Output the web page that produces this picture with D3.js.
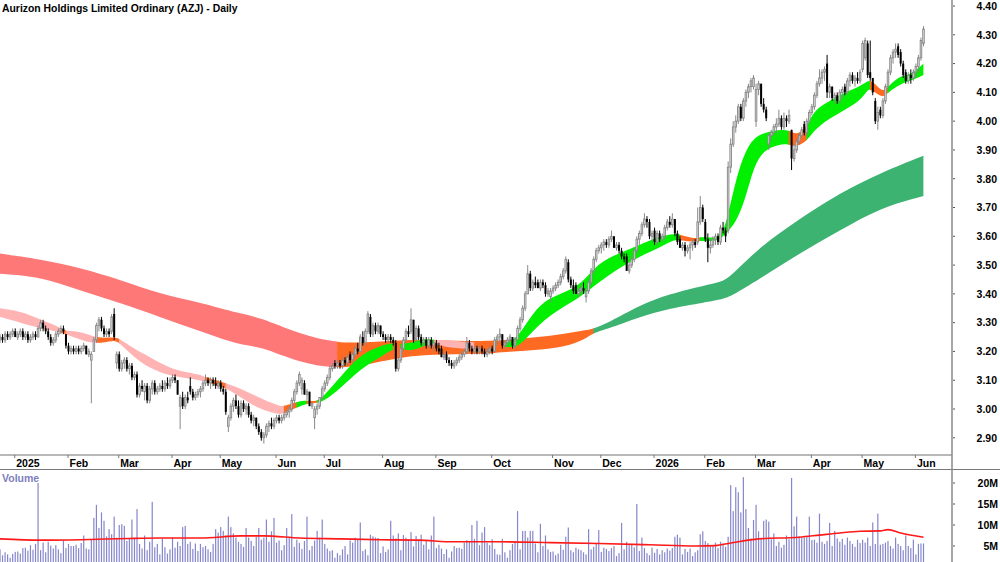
<!DOCTYPE html>
<html>
<head>
<meta charset="utf-8">
<script src="https://cdn.jsdelivr.net/npm/d3@7"></script>
<style>
  body { margin: 0; background: #fff; }
  svg text { font-family: "Liberation Sans", Arial, sans-serif; font-weight: bold; }
</style>
</head>
<body>
<div id="chart"></div>
<script>

// daily bars, open / high / low / close (late Dec 2024 .. early Jun 2026)
var ohlc = [
  [3.24,3.26,3.23,3.25],[3.25,3.26,3.23,3.24],[3.24,3.27,3.23,3.26],[3.26,3.27,3.24,3.25],[3.25,3.27,3.24,3.26],
  [3.26,3.28,3.25,3.27],[3.27,3.28,3.25,3.25],[3.25,3.27,3.24,3.26],[3.26,3.28,3.25,3.27],[3.27,3.28,3.24,3.25],
  [3.25,3.27,3.24,3.26],[3.26,3.27,3.23,3.24],[3.24,3.26,3.23,3.25],[3.25,3.27,3.24,3.26],[3.26,3.27,3.24,3.25],
  [3.25,3.29,3.25,3.28],[3.28,3.31,3.27,3.30],[3.30,3.31,3.27,3.28],[3.28,3.29,3.26,3.27],[3.27,3.28,3.24,3.25],
  [3.25,3.26,3.22,3.23],[3.23,3.25,3.22,3.24],[3.24,3.27,3.23,3.26],[3.26,3.28,3.25,3.27],[3.27,3.29,3.26,3.28],
  [3.28,3.29,3.26,3.27],[3.26,3.26,3.21,3.22],[3.22,3.23,3.19,3.20],[3.20,3.22,3.19,3.21],[3.21,3.22,3.19,3.20],
  [3.20,3.22,3.19,3.21],[3.21,3.22,3.19,3.20],[3.20,3.22,3.19,3.21],[3.21,3.23,3.20,3.22],[3.22,3.22,3.19,3.19],
  [3.19,3.21,3.18,3.20],[3.17,3.20,3.02,3.19],[3.20,3.25,3.20,3.24],[3.24,3.30,3.23,3.29],[3.29,3.32,3.27,3.31],
  [3.31,3.32,3.27,3.28],[3.28,3.29,3.25,3.26],[3.26,3.28,3.25,3.27],[3.27,3.28,3.25,3.26],[3.27,3.33,3.26,3.32],
  [3.33,3.35,3.24,3.25],[3.16,3.20,3.14,3.19],[3.19,3.20,3.13,3.14],[3.14,3.17,3.13,3.16],[3.16,3.18,3.14,3.17],
  [3.17,3.18,3.13,3.14],[3.14,3.16,3.12,3.15],[3.15,3.16,3.10,3.11],[3.11,3.13,3.10,3.12],[3.12,3.13,3.04,3.05],
  [3.05,3.09,3.04,3.08],[3.08,3.10,3.06,3.07],[3.06,3.09,3.03,3.08],[3.08,3.09,3.02,3.03],[3.03,3.08,3.02,3.07],
  [3.07,3.10,3.05,3.09],[3.09,3.10,3.05,3.06],[3.06,3.08,3.05,3.07],[3.07,3.09,3.06,3.08],[3.08,3.10,3.06,3.07],
  [3.07,3.10,3.06,3.09],[3.09,3.11,3.07,3.08],[3.08,3.11,3.07,3.10],[3.10,3.12,3.09,3.11],[3.11,3.12,3.09,3.10],
  [3.10,3.10,3.05,3.05],[3.01,3.05,2.93,3.04],[3.04,3.06,3.00,3.01],[3.01,3.05,3.00,3.04],[3.04,3.06,3.02,3.03],
  [3.08,3.11,3.05,3.06],[3.06,3.07,3.03,3.04],[3.04,3.06,3.03,3.05],[3.05,3.07,3.04,3.06],[3.06,3.08,3.04,3.07],
  [3.07,3.10,3.06,3.09],[3.09,3.12,3.08,3.10],[3.10,3.11,3.08,3.09],[3.09,3.11,3.07,3.10],[3.10,3.11,3.08,3.09],
  [3.09,3.11,3.07,3.08],[3.08,3.10,3.07,3.09],[3.09,3.10,3.06,3.07],[3.07,3.08,3.05,3.06],[3.06,3.07,2.98,2.99],
  [2.94,2.98,2.92,2.97],[2.97,3.02,2.96,3.01],[3.01,3.04,2.99,3.03],[3.03,3.05,3.00,3.01],[3.01,3.03,2.97,2.98],
  [2.98,3.03,2.97,3.02],[3.02,3.03,2.99,3.00],[3.00,3.02,2.98,3.01],[3.01,3.02,2.97,2.98],[2.98,2.99,2.95,2.96],
  [2.96,2.98,2.94,2.97],[2.97,2.97,2.93,2.94],[2.94,2.95,2.91,2.92],[2.92,2.93,2.89,2.90],[2.90,2.92,2.88,2.91],
  [2.91,2.95,2.90,2.94],[2.94,2.96,2.92,2.95],[2.95,2.97,2.93,2.94],[2.94,2.97,2.93,2.96],[2.96,2.98,2.95,2.97],
  [2.97,2.98,2.95,2.96],[2.96,2.98,2.95,2.97],[2.97,2.99,2.96,2.98],[2.98,3.00,2.97,2.99],[2.99,3.01,2.97,3.00],
  [3.00,3.04,2.99,3.03],[3.03,3.07,3.02,3.06],[3.06,3.10,3.05,3.09],[3.09,3.13,3.08,3.12],[3.07,3.11,3.05,3.10],
  [3.09,3.10,3.05,3.05],[3.05,3.07,3.03,3.06],[3.06,3.06,3.01,3.01],[3.01,3.02,3.00,3.02],[2.97,3.01,2.93,3.00],
  [3.00,3.02,2.98,3.01],[3.01,3.04,3.00,3.04],[3.04,3.08,3.03,3.07],[3.07,3.10,3.06,3.09],[3.09,3.12,3.08,3.11],
  [3.11,3.15,3.10,3.14],[3.14,3.16,3.13,3.15],[3.16,3.17,3.14,3.15],[3.15,3.17,3.14,3.16],[3.16,3.17,3.14,3.15],
  [3.15,3.18,3.14,3.17],[3.17,3.18,3.15,3.16],[3.16,3.19,3.15,3.18],[3.19,3.20,3.16,3.17],[3.17,3.20,3.16,3.19],
  [3.19,3.22,3.18,3.21],[3.21,3.23,3.19,3.20],[3.20,3.26,3.20,3.25],[3.25,3.27,3.22,3.23],[3.23,3.28,3.22,3.27],
  [3.27,3.34,3.26,3.33],[3.32,3.33,3.25,3.26],[3.26,3.30,3.25,3.29],[3.29,3.30,3.26,3.27],[3.27,3.30,3.26,3.29],
  [3.29,3.29,3.25,3.26],[3.26,3.27,3.24,3.25],[3.25,3.26,3.23,3.24],[3.24,3.26,3.23,3.25],[3.25,3.26,3.23,3.24],
  [3.24,3.25,3.22,3.23],[3.23,3.24,3.13,3.14],[3.14,3.18,3.13,3.17],[3.17,3.22,3.16,3.21],[3.21,3.25,3.20,3.24],
  [3.24,3.28,3.23,3.27],[3.27,3.29,3.25,3.26],[3.27,3.35,3.26,3.31],[3.31,3.31,3.23,3.24],[3.24,3.29,3.23,3.28],
  [3.28,3.29,3.24,3.25],[3.25,3.26,3.22,3.23],[3.23,3.25,3.22,3.24],[3.24,3.25,3.21,3.22],[3.22,3.25,3.21,3.24],
  [3.24,3.25,3.21,3.22],[3.22,3.24,3.20,3.23],[3.23,3.24,3.20,3.21],[3.21,3.23,3.19,3.20],[3.21,3.22,3.18,3.18],
  [3.18,3.20,3.17,3.19],[3.19,3.20,3.16,3.17],[3.17,3.18,3.15,3.16],[3.16,3.17,3.14,3.15],[3.15,3.17,3.14,3.16],
  [3.16,3.18,3.15,3.17],[3.17,3.19,3.16,3.18],[3.18,3.20,3.17,3.19],[3.19,3.21,3.18,3.20],[3.20,3.25,3.19,3.23],
  [3.23,3.24,3.20,3.21],[3.21,3.22,3.19,3.20],[3.20,3.22,3.19,3.21],[3.21,3.22,3.19,3.20],[3.20,3.22,3.19,3.21],
  [3.21,3.22,3.19,3.20],[3.20,3.21,3.18,3.19],[3.19,3.21,3.18,3.20],[3.20,3.22,3.19,3.21],[3.21,3.22,3.19,3.20],
  [3.20,3.25,3.20,3.24],[3.24,3.26,3.22,3.25],[3.25,3.28,3.23,3.26],[3.26,3.26,3.21,3.22],[3.22,3.24,3.21,3.23],
  [3.23,3.25,3.22,3.24],[3.24,3.26,3.23,3.25],[3.25,3.25,3.21,3.22],[3.22,3.25,3.21,3.24],[3.24,3.29,3.24,3.28],
  [3.28,3.32,3.27,3.31],[3.31,3.36,3.30,3.35],[3.35,3.41,3.34,3.40],[3.40,3.50,3.40,3.47],[3.47,3.48,3.41,3.42],
  [3.42,3.45,3.41,3.44],[3.44,3.46,3.42,3.43],[3.44,3.45,3.42,3.42],[3.42,3.45,3.41,3.44],[3.44,3.45,3.42,3.43],
  [3.43,3.44,3.39,3.40],[3.40,3.42,3.39,3.41],[3.39,3.42,3.37,3.41],[3.41,3.43,3.40,3.42],[3.42,3.44,3.41,3.43],
  [3.43,3.45,3.42,3.44],[3.44,3.47,3.43,3.46],[3.46,3.49,3.45,3.48],[3.48,3.53,3.47,3.52],[3.51,3.52,3.44,3.45],
  [3.45,3.46,3.42,3.43],[3.43,3.45,3.40,3.41],[3.43,3.44,3.40,3.40],[3.40,3.42,3.39,3.41],[3.41,3.43,3.40,3.42],
  [3.42,3.44,3.40,3.41],[3.39,3.42,3.37,3.41],[3.41,3.45,3.40,3.44],[3.44,3.49,3.43,3.48],[3.48,3.53,3.47,3.52],
  [3.52,3.56,3.51,3.55],[3.55,3.57,3.54,3.56],[3.56,3.58,3.54,3.57],[3.57,3.59,3.55,3.58],[3.58,3.59,3.56,3.57],
  [3.57,3.60,3.56,3.59],[3.59,3.62,3.58,3.60],[3.60,3.60,3.56,3.56],[3.56,3.58,3.55,3.57],[3.57,3.58,3.54,3.55],
  [3.55,3.56,3.52,3.53],[3.53,3.54,3.51,3.52],[3.53,3.54,3.48,3.48],[3.48,3.51,3.47,3.50],[3.50,3.53,3.49,3.52],
  [3.52,3.56,3.51,3.55],[3.55,3.60,3.54,3.59],[3.59,3.62,3.57,3.61],[3.61,3.65,3.60,3.64],[3.64,3.68,3.63,3.66],
  [3.66,3.67,3.63,3.65],[3.65,3.66,3.59,3.60],[3.60,3.62,3.58,3.61],[3.62,3.63,3.57,3.58],[3.58,3.62,3.57,3.61],
  [3.61,3.62,3.58,3.59],[3.59,3.61,3.58,3.60],[3.60,3.64,3.59,3.63],[3.63,3.66,3.62,3.65],[3.65,3.67,3.63,3.64],
  [3.64,3.68,3.63,3.66],[3.66,3.66,3.60,3.61],[3.61,3.62,3.57,3.58],[3.59,3.60,3.56,3.56],[3.56,3.58,3.55,3.57],
  [3.57,3.58,3.53,3.55],[3.55,3.57,3.54,3.56],[3.56,3.58,3.52,3.57],[3.57,3.59,3.55,3.58],[3.58,3.59,3.56,3.57],
  [3.58,3.70,3.57,3.65],[3.65,3.74,3.64,3.70],[3.70,3.71,3.65,3.66],[3.65,3.66,3.58,3.59],[3.59,3.61,3.51,3.56],
  [3.56,3.59,3.54,3.57],[3.57,3.60,3.56,3.59],[3.59,3.61,3.57,3.60],[3.60,3.61,3.57,3.58],[3.58,3.64,3.57,3.63],
  [3.63,3.65,3.61,3.62],[3.62,3.63,3.58,3.60],[3.62,3.86,3.61,3.84],[3.84,3.94,3.82,3.92],[3.92,4.00,3.91,3.98],
  [3.98,4.02,3.96,4.00],[4.00,4.06,3.99,4.05],[4.05,4.06,4.00,4.01],[4.01,4.08,4.00,4.07],[4.07,4.11,4.05,4.10],
  [4.10,4.13,4.08,4.12],[4.12,4.15,4.10,4.14],[4.12,4.16,4.11,4.15],[4.00,4.13,3.98,4.11],[4.11,4.14,4.09,4.13],
  [4.13,4.13,4.05,4.06],[4.06,4.08,4.03,4.04],[4.04,4.05,4.00,4.01],[3.92,3.96,3.90,3.95],[3.95,3.97,3.93,3.96],
  [3.96,3.99,3.95,3.98],[3.98,4.01,3.96,3.99],[3.99,4.04,3.98,4.01],[4.01,4.02,3.97,3.98],[3.98,4.03,3.97,4.01],
  [4.01,4.02,3.98,4.00],[4.00,4.04,3.99,4.02],[3.97,3.97,3.83,3.87],[3.87,3.92,3.86,3.90],[3.90,3.94,3.89,3.93],
  [3.93,3.96,3.92,3.95],[3.95,3.98,3.94,3.97],[3.99,4.00,3.95,3.96],[3.96,4.01,3.95,4.00],[4.00,4.04,3.99,4.03],
  [4.03,4.06,4.02,4.05],[4.05,4.10,4.04,4.09],[4.09,4.14,4.08,4.13],[4.13,4.18,4.12,4.15],[4.15,4.18,4.13,4.17],
  [4.17,4.19,4.14,4.18],[4.20,4.23,4.08,4.10],[4.10,4.13,4.08,4.12],[4.12,4.12,4.07,4.08],[4.08,4.10,4.06,4.09],
  [4.09,4.10,4.06,4.07],[4.07,4.11,4.06,4.10],[4.10,4.12,4.08,4.11],[4.12,4.13,4.09,4.10],[4.10,4.15,4.09,4.14],
  [4.14,4.17,4.12,4.16],[4.16,4.17,4.13,4.14],[4.14,4.16,4.12,4.15],[4.15,4.17,4.13,4.14],[4.14,4.18,4.13,4.17],
  [4.18,4.28,4.17,4.27],[4.22,4.29,4.21,4.28],[4.27,4.28,4.15,4.16],[4.17,4.28,4.14,4.15],[4.15,4.15,4.09,4.10],
  [4.07,4.08,3.99,4.00],[4.00,4.05,3.97,4.03],[4.04,4.05,4.01,4.02],[4.02,4.08,4.01,4.07],[4.07,4.13,4.06,4.12],
  [4.12,4.18,4.11,4.17],[4.17,4.23,4.16,4.22],[4.22,4.25,4.20,4.24],[4.24,4.27,4.22,4.25],[4.26,4.27,4.22,4.23],
  [4.24,4.25,4.19,4.20],[4.20,4.21,4.15,4.16],[4.17,4.18,4.13,4.14],[4.14,4.17,4.13,4.16],[4.16,4.18,4.13,4.15],
  [4.15,4.18,4.14,4.17],[4.17,4.20,4.15,4.19],[4.19,4.23,4.17,4.22],[4.22,4.29,4.21,4.28],[4.27,4.33,4.26,4.32]
];

// daily volume, millions
var volume = [
  4.2,2.8,3.5,3.0,2.2,3.1,3.6,3.7,3.2,4.5,4.6,3.9,5.2,4.1,5.5,20.0,4.0,5.8,3.5,6.0,
  5.1,4.4,5.2,4.2,3.3,6.3,4.5,5.5,5.0,5.0,5.3,4.5,5.7,7.5,4.4,4.2,6.5,11.7,14.8,9.3,
  13.0,11.0,7.3,9.0,7.8,12.0,7.0,10.0,10.2,9.8,6.2,6.7,11.3,6.8,13.8,5.5,4.4,7.5,4.0,6.0,
  15.5,4.7,5.5,3.0,6.8,4.7,3.2,4.2,7.0,4.6,6.0,5.0,9.5,9.8,5.5,6.0,4.3,5.6,3.8,5.5,
  4.7,5.0,4.2,3.6,5.5,9.0,8.2,9.5,8.6,7.5,12.0,9.5,8.0,7.0,6.0,5.5,4.8,9.3,7.0,6.2,
  5.0,7.2,9.3,6.5,7.0,11.3,6.0,8.5,11.7,5.8,6.3,4.0,5.2,9.3,7.0,12.6,4.8,6.5,5.7,4.3,
  6.2,12.0,4.0,5.0,6.3,8.6,7.0,11.3,5.5,4.4,3.8,4.0,2.2,3.3,2.8,4.2,5.0,3.0,6.3,5.8,
  7.0,6.5,10.6,3.8,4.2,2.8,7.7,7.3,7.0,6.9,3.3,4.9,3.6,4.2,11.0,7.5,6.8,8.0,4.0,7.6,
  7.0,6.5,8.3,4.9,7.4,6.5,7.7,5.3,6.2,4.2,7.5,12.0,4.5,5.3,4.4,3.1,4.2,2.2,3.7,5.0,
  4.5,4.6,4.3,5.8,6.4,6.0,10.0,6.7,11.0,5.2,8.2,9.5,5.8,5.2,6.6,4.3,3.0,2.9,6.7,3.5,
  2.2,4.0,5.5,6.0,13.3,4.2,8.6,8.6,7.0,8.6,8.6,5.6,3.5,10.3,5.0,7.5,4.2,3.6,3.7,2.8,
  3.2,5.3,4.1,7.2,9.4,4.0,3.5,4.6,4.2,4.0,3.5,3.0,9.0,4.2,4.8,5.5,8.8,3.6,4.6,4.3,
  3.8,4.5,5.0,2.6,3.3,10.5,4.2,6.0,5.2,5.5,4.7,15.0,3.8,7.0,4.5,3.3,2.8,4.6,3.4,4.3,
  3.0,4.0,3.5,4.4,3.9,4.5,7.2,7.7,7.0,3.0,4.3,3.6,4.4,2.6,3.5,4.0,7.8,8.5,6.2,5.7,
  5.0,5.2,5.8,4.5,6.0,5.6,4.8,7.2,19.5,13.3,19.0,17.8,13.0,21.4,13.8,9.3,6.8,11.2,14.8,8.5,
  7.0,11.0,11.3,10.8,6.6,8.0,5.0,6.0,4.6,5.3,7.5,6.6,21.2,9.7,12.0,7.3,7.0,7.1,7.3,12.0,
  6.4,6.5,5.8,12.7,6.0,5.5,6.2,10.5,5.0,8.6,6.8,6.0,6.7,5.3,7.0,6.2,5.5,4.8,6.5,5.7,
  6.5,5.8,7.0,5.0,10.6,5.5,12.7,5.3,5.5,5.8,6.2,5.0,4.4,7.0,5.5,5.0,4.0,7.5,5.0,4.5,
  6.5,3.0,5.5,5.6,5.6
];

// volume average line, read at these bar positions (millions)
var volAvgIdx = [0,16,32,51,63,79,95,104,118,134,150,165,179,197,217,236,256,274,282,288,299,315,323,331,339,347,350,355,364];
var volAvg    = [6.7,6.4,6.5,6.8,6.9,6.9,7.4,7.4,6.9,6.7,6.5,6.4,6.0,6.0,5.8,5.6,5.3,5.0,5.1,5.7,6.7,7.1,7.6,8.1,8.5,8.6,8.9,8.1,7.1];

// short-term ribbon: P = bearish pink, O = mixed, G = bullish
var shortIdx   = [0,8,16,22,24,26,32,38,45,47,51,57,65,71,79,81,89,95,102,110,112,117,121,125,128,134,142,150,155,158,162,167,171,177,187,193,199,203,207,213,221,229,236,244,252,260,266,268,274,276,283,286,290,294,297,301,307,311,314,318,321,327,333,339,342,343,345,348,350,355,359,364];
var shortTop   = [3.35,3.34,3.31,3.29,3.28,3.27,3.27,3.245,3.25,3.245,3.22,3.19,3.15,3.13,3.12,3.11,3.09,3.07,3.04,3.01,3.01,3.025,3.03,3.025,3.05,3.11,3.19,3.22,3.23,3.225,3.23,3.245,3.24,3.24,3.23,3.23,3.23,3.24,3.29,3.37,3.40,3.43,3.51,3.54,3.57,3.60,3.61,3.605,3.59,3.60,3.59,3.63,3.80,3.90,3.94,3.96,3.97,3.97,3.95,3.98,4.04,4.07,4.10,4.12,4.14,4.14,4.13,4.10,4.12,4.16,4.16,4.20];
var shortBot   = [3.32,3.30,3.28,3.27,3.265,3.26,3.24,3.225,3.24,3.23,3.195,3.15,3.12,3.11,3.10,3.095,3.075,3.04,3.00,2.98,2.985,3.005,3.02,3.02,3.03,3.07,3.14,3.18,3.21,3.21,3.20,3.22,3.23,3.21,3.21,3.20,3.22,3.21,3.24,3.30,3.35,3.39,3.44,3.49,3.53,3.56,3.59,3.585,3.58,3.585,3.58,3.61,3.645,3.735,3.84,3.90,3.92,3.92,3.91,3.93,3.97,4.01,4.04,4.07,4.11,4.11,4.10,4.08,4.10,4.13,4.14,4.16];
var shortState = ["P","P","P","P","O","P","P","O","O","P","P","P","P","P","P","O","P","P","P","P","O","G","O","G","G","G","G","G","O","G","G","G","P","P","O","O","G","G","G","G","G","G","G","G","G","G","G","O","O","G","G","G","G","G","G","G","G","O","O","G","G","G","G","G","G","O","O","O","G","G","G","G"];

// long-term ribbon: R = bearish, O = mixed, D = bullish
var longIdx   = [0,16,32,47,63,79,95,102,118,133,142,158,170,189,201,213,225,232,234,240,252,264,278,284,288,299,315,331,347,364];
var longTop   = [3.54,3.52,3.49,3.45,3.40,3.37,3.33,3.32,3.26,3.23,3.23,3.24,3.24,3.235,3.24,3.25,3.265,3.275,3.28,3.30,3.36,3.40,3.43,3.44,3.46,3.56,3.66,3.75,3.82,3.88];
var longBot   = [3.47,3.46,3.41,3.37,3.32,3.27,3.22,3.22,3.16,3.14,3.15,3.18,3.19,3.19,3.20,3.205,3.22,3.25,3.265,3.28,3.32,3.35,3.37,3.38,3.39,3.45,3.54,3.62,3.70,3.74];
var longState = ["R","R","R","R","R","R","R","R","R","O","O","O","O","O","O","O","O","O","D","D","D","D","D","D","D","D","D","D","D","D"];

var monthIdx    = [6,27,47,68,87,109,128,151,172,194,218,237,258,278,298,320,340,361];
var monthLabels = ["2025","Feb","Mar","Apr","May","Jun","Jul","Aug","Sep","Oct","Nov","Dec","2026","Feb","Mar","Apr","May","Jun"];

var priceTicks = [2.9,3.0,3.1,3.2,3.3,3.4,3.5,3.6,3.7,3.8,3.9,4.0,4.1,4.2,4.3,4.4];
var volTicks   = [5,10,15,20];

var ribbonColors = {P:"#ffb3b3", R:"#ff7878", O:"#ff6a22", G:"#00f000", D:"#3cb371"};

var width = 1000, height = 562;
var axisX = 952;
var dateLineY = 455;

var x = d3.scaleLinear().domain([0, ohlc.length - 1]).range([0, 923.5]);
var y = d3.scaleLinear().domain([2.9, 4.4]).range([437.8, 6]);
var yv = d3.scaleLinear().domain([0, 20]).range([567, 483]);

const svg = d3.select("#chart").append("svg")
  .attr("width", width)
  .attr("height", height)
  .style("display", "block");

svg.append("rect").attr("width", width).attr("height", height).attr("fill", "#fff");

const defs = svg.append("defs");

function drawRibbon(g, idx, top, bot, state, name) {
  var pts = idx.map((d, k) => ({i: d, t: top[k], b: bot[k]}));
  var area = d3.area()
    .curve(d3.curveBasis)
    .x(d => x(d.i))
    .y0(d => y(d.b))
    .y1(d => y(d.t));
  var pathD = area(pts);

  // group neighbouring samples of the same state
  var runs = [];
  for (var k = 0; k < idx.length - 1; k++) {
    var last = runs[runs.length - 1];
    if (last && last.s === state[k]) last.end = idx[k + 1];
    else runs.push({s: state[k], start: idx[k], end: idx[k + 1]});
  }

  runs.forEach((r, j) => {
    var id = name + "clip" + j;
    defs.append("clipPath").attr("id", id)
      .append("rect")
      .attr("x", x(r.start) - 0.3)
      .attr("y", 0)
      .attr("width", x(r.end) - x(r.start) + 0.6)
      .attr("height", dateLineY);
    g.append("path")
      .attr("d", pathD)
      .attr("fill", ribbonColors[r.s])
      .attr("clip-path", `url(#${id})`);
  });
}

const ribbons = svg.append("g");
drawRibbon(ribbons, longIdx, longTop, longBot, longState, "long");
drawRibbon(ribbons, shortIdx, shortTop, shortBot, shortState, "short");

// candles
const candles = svg.append("g")
  .selectAll("g")
  .data(ohlc)
  .enter().append("g");

candles.append("line")
  .attr("x1", (d, i) => x(i))
  .attr("x2", (d, i) => x(i))
  .attr("y1", d => y(d[1]))
  .attr("y2", d => y(d[2]))
  .attr("stroke", d => d[3] >= d[0] ? "#888" : "#000")
  .attr("stroke-width", 1);

candles.append("rect")
  .attr("x", (d, i) => x(i) - (d[3] >= d[0] ? 0.8 : 1))
  .attr("width", d => d[3] >= d[0] ? 1.6 : 2)
  .attr("y", d => y(Math.max(d[0], d[3])))
  .attr("height", d => Math.max(1, y(Math.min(d[0], d[3])) - y(Math.max(d[0], d[3]))))
  .attr("fill", d => d[3] >= d[0] ? "#e0e0e0" : "#000")
  .attr("stroke", d => d[3] >= d[0] ? "#888" : "none")
  .attr("stroke-width", 0.9);

// title
svg.append("text")
  .attr("x", 2)
  .attr("y", 11.5)
  .style("font-size", "10.4px")
  .attr("fill", "#000")
  .text("Aurizon Holdings Limited Ordinary (AZJ) - Daily");

// date axis
svg.append("line")
  .attr("x1", 0).attr("x2", axisX)
  .attr("y1", dateLineY).attr("y2", dateLineY)
  .attr("stroke", "#a0a0a0").attr("stroke-width", 1.6);

svg.append("line")
  .attr("x1", 0).attr("x2", width)
  .attr("y1", 469.5).attr("y2", 469.5)
  .attr("stroke", "#777").attr("stroke-width", 1);

const months = svg.append("g")
  .selectAll("g")
  .data(monthIdx)
  .enter().append("g");

months.append("line")
  .attr("x1", d => x(d) - 0.5).attr("x2", d => x(d) - 0.5)
  .attr("y1", dateLineY).attr("y2", dateLineY + 3)
  .attr("stroke", "#777");

months.append("text")
  .attr("x", d => x(d) + 1)
  .attr("y", 466.5)
  .style("font-size", "10.5px")
  .attr("fill", "#000")
  .text((d, i) => monthLabels[i]);

// right hand axis
svg.append("line")
  .attr("x1", axisX).attr("x2", axisX)
  .attr("y1", 0).attr("y2", height)
  .attr("stroke", "#8a8a8a").attr("stroke-width", 1.5);

const pTicks = svg.append("g")
  .selectAll("g")
  .data(priceTicks)
  .enter().append("g");

pTicks.append("line")
  .attr("x1", axisX + 1).attr("x2", axisX + 3)
  .attr("y1", d => y(d)).attr("y2", d => y(d))
  .attr("stroke", "#555");

pTicks.append("text")
  .attr("x", 997)
  .attr("y", d => y(d))
  .attr("dy", "0.36em")
  .attr("text-anchor", "end")
  .style("font-size", "10.5px")
  .attr("fill", "#000")
  .text(d => d.toFixed(2));

// volume panel
svg.append("g")
  .selectAll("rect")
  .data(volume)
  .enter().append("rect")
  .attr("x", (d, i) => x(i) - 0.6)
  .attr("width", 1.2)
  .attr("y", d => yv(d))
  .attr("height", d => yv(0) - yv(d))
  .attr("fill", "#8686cc");

var avgLine = d3.line()
  .curve(d3.curveMonotoneX)
  .x(d => x(d[0]))
  .y(d => yv(d[1]));

svg.append("path")
  .attr("d", avgLine(volAvgIdx.map((d, k) => [d, volAvg[k]])))
  .attr("fill", "none")
  .attr("stroke", "#ff1a1a")
  .attr("stroke-width", 1.6);

svg.append("text")
  .attr("x", 2)
  .attr("y", 482)
  .style("font-size", "10.5px")
  .attr("fill", "#8080c0")
  .text("Volume");

const vTicks = svg.append("g")
  .selectAll("g")
  .data(volTicks)
  .enter().append("g");

vTicks.append("line")
  .attr("x1", axisX + 1).attr("x2", axisX + 3)
  .attr("y1", d => yv(d)).attr("y2", d => yv(d))
  .attr("stroke", "#555");

vTicks.append("text")
  .attr("x", 998)
  .attr("y", d => yv(d))
  .attr("dy", "0.36em")
  .attr("text-anchor", "end")
  .style("font-size", "10.5px")
  .attr("fill", "#000")
  .text(d => d + "M");

</script>
</body>
</html>
